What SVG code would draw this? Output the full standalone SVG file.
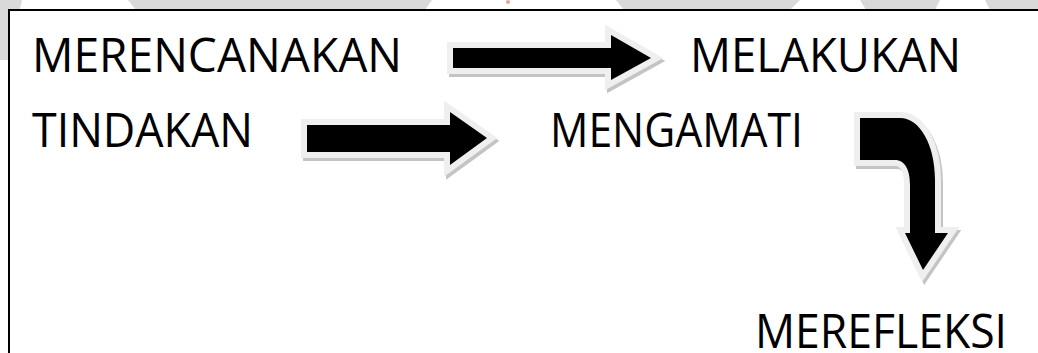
<svg xmlns="http://www.w3.org/2000/svg" width="1038" height="353" viewBox="0 0 1038 353">
<style>
.wm{fill:#d9d9d9}
.lbl{font-family:"Open Sans","Liberation Sans",sans-serif;font-size:47px;fill:#000}
.sh{fill:#c4c4c4;stroke:#c4c4c4;stroke-width:12;stroke-linejoin:miter}
.ol{fill:#efefef;stroke:#efefef;stroke-width:12;stroke-linejoin:miter}
.ar{fill:#000}
</style>
<rect x="0" y="0" width="1038" height="353" fill="#fff"/>
<g id="watermark">
<polygon class="wm" points="0,0 22,0 8,60 0,60"/>
<polygon class="wm" points="128,0 432,0 425,10 136,10"/>
<polygon class="wm" points="616,0 800,0 790,10 624,10"/>
<polygon class="wm" points="860,0 940,0 935,10 866,10"/>
<polygon class="wm" points="985,0 1038,0 1038,10 990,10"/>
<circle cx="508" cy="2" r="2" fill="#e8a0a0"/>
</g>
<rect x="9" y="10" width="1040" height="360" fill="#fff" stroke="#000" stroke-width="2"/>
<g id="connectors">
<g id="arrow1">
<polygon class="sh" transform="translate(2,3)" points="453,48 611,48 611,35 651,58 611,80 611,68 453,68"/>
<polygon class="ol" points="453,48 611,48 611,35 651,58 611,80 611,68 453,68"/>
<polygon class="ar" points="453,48 611,48 611,35 651,58 611,80 611,68 453,68"/>
</g>
<g id="arrow2">
<polygon class="sh" transform="translate(2,3)" points="307,125 450,125 450,112 487,138 450,165 450,152 307,152"/>
<polygon class="ol" points="307,125 450,125 450,112 487,138 450,165 450,152 307,152"/>
<polygon class="ar" points="307,125 450,125 450,112 487,138 450,165 450,152 307,152"/>
</g>
<g id="arrow3">
<path class="sh" transform="translate(2,3)" d="M860,118 H900 C920,118 935,145 935,180 V233 H948 L923,270 L905,233 H910 V185 C910,170 905,160 895,160 H860 Z"/>
<path class="ol" d="M860,118 H900 C920,118 935,145 935,180 V233 H948 L923,270 L905,233 H910 V185 C910,170 905,160 895,160 H860 Z"/>
<path class="ar" d="M860,118 H900 C920,118 935,145 935,180 V233 H948 L923,270 L905,233 H910 V185 C910,170 905,160 895,160 H860 Z"/>
</g>
</g>
<g id="n-merencanakan"><text class="lbl" x="32" y="72" textLength="370" lengthAdjust="spacingAndGlyphs">MERENCANAKAN</text></g>
<g id="n-melakukan"><text class="lbl" x="690" y="72" textLength="271" lengthAdjust="spacingAndGlyphs">MELAKUKAN</text></g>
<g id="n-tindakan"><text class="lbl" x="32" y="147" textLength="221" lengthAdjust="spacingAndGlyphs">TINDAKAN</text></g>
<g id="n-mengamati"><text class="lbl" x="550" y="147" textLength="253" lengthAdjust="spacingAndGlyphs">MENGAMATI</text></g>
<g id="n-merefleksi"><text class="lbl" x="755" y="348" textLength="252" lengthAdjust="spacingAndGlyphs">MEREFLEKSI</text></g>
</svg>
